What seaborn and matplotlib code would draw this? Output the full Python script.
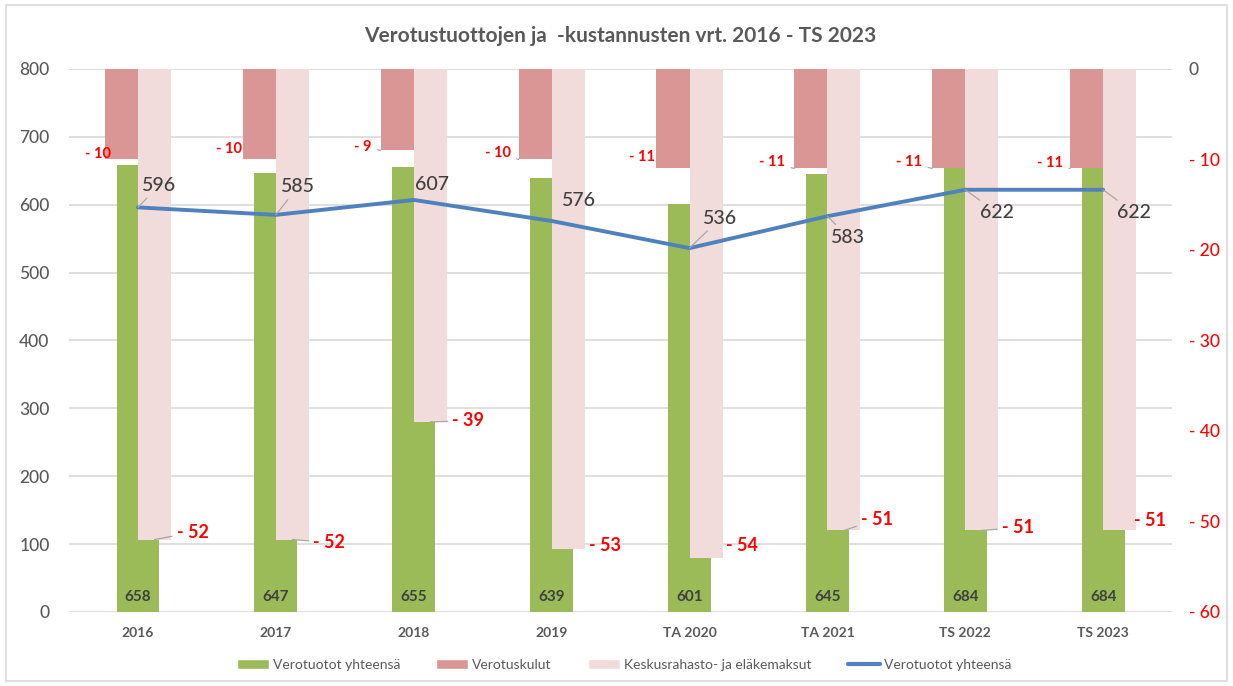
import numpy as np
import pandas as pd
import matplotlib.pyplot as plt
import seaborn as sns
from matplotlib.patches import Patch, Rectangle
from matplotlib.lines import Line2D

years = ["2016", "2017", "2018", "2019", "TA 2020", "TA 2021", "TS 2022", "TS 2023"]
tax_total = [658, 647, 655, 639, 601, 645, 684, 684]
collection_costs = [-10, -10, -9, -10, -11, -11, -11, -11]
pension_fees = [-52, -52, -39, -53, -54, -51, -51, -51]
net_revenue = [596, 585, 607, 576, 536, 583, 622, 622]

left_ticks = list(range(0, 801, 100))
right_ticks = list(range(-60, 1, 10))

TITLE = "Verotustuottojen ja  -kustannusten vrt. 2016 - TS 2023"
SERIES = ["Verotuotot yhteensä", "Verotuskulut", "Keskusrahasto- ja eläkemaksut", "Verotuotot yhteensä"]

GREEN = "#9BBB59"
RED = "#D99694"
PINK = "#F2DCDB"
BLUE = "#4F81BD"
TEXT = "#595959"
DARK = "#404040"
LABEL_RED = "#FF0000"
GRID = "#D9D9D9"
LEADER = "#A6A6A6"

# label offsets in pixels (dx, dy) and whether a leader line is drawn
line_offsets = [(21, 22, True), (22, 28, True), (18, 15, False), (27, 20, False),
                (31, 30, True), (21, -21, True), (32, -23, True), (31, -23, True)]
cost_offsets = [(-7, 5, False), (-14, 10, False), (-18, 3, True), (-21, 6, True),
                (-14, 11, False), (-22, 6, True), (-23, 6, True), (-20, 5, True)]
fee_offsets = [(38, 7, True), (37, -3, True), (38, 1, True), (37, 3, False),
               (36, 12, False), (33, 11, True), (36, 3, True), (30, 10, False)]


def neg_label(v):
    return "0" if v == 0 else f"- {abs(v)}"


sns.set_theme(style="white")
plt.rcParams["font.family"] = ["Lato", "DejaVu Sans"]

fig = plt.figure(figsize=(12.33, 6.86), dpi=100)
ax = fig.add_axes([0.056, 0.108, 0.8946, 0.7915])
ax2 = ax.twinx()
ax3 = ax.twinx()

# green bars (left scale)
sns.barplot(x=years, y=tax_total, color=GREEN, saturation=1, width=0.31,
            errorbar=None, linewidth=0, ax=ax)

# cost bars hanging from the top (right scale)
costs = pd.DataFrame({
    "vuosi": years * 2,
    "arvo": collection_costs + pension_fees,
    "sarja": [SERIES[1]] * len(years) + [SERIES[2]] * len(years),
})
sns.barplot(data=costs, x="vuosi", y="arvo", hue="sarja", palette=[RED, PINK],
            saturation=1, width=0.48, errorbar=None, legend=False, linewidth=0, ax=ax2)

# net revenue line (left scale, on top)
sns.lineplot(x=years, y=net_revenue, color=BLUE, linewidth=2.8, sort=False, ax=ax3)

ax.set_zorder(1)
ax2.set_zorder(2)
ax3.set_zorder(3)
ax2.patch.set_visible(False)
ax3.patch.set_visible(False)

for a in (ax, ax2, ax3):
    a.set_xlabel("")
    a.set_ylabel("")
    for s in a.spines.values():
        s.set_visible(False)

ax.set_ylim(0, 800)
ax3.set_ylim(0, 800)
ax2.set_ylim(-60, 0)
ax.set_xlim(-0.5, len(years) - 0.5)

ax.set_yticks(left_ticks)
ax.yaxis.grid(True, color=GRID, linewidth=1.2)
ax.set_axisbelow(True)
ax.tick_params(axis="y", length=0, pad=14, labelsize=12.5, labelcolor=TEXT)
ax.tick_params(axis="x", length=0, pad=11, labelsize=10, labelcolor=TEXT)
ax.set_xticks(range(len(years)), years)
for lbl in ax.get_xticklabels():
    lbl.set_fontweight("bold")
for lbl in ax.get_yticklabels():
    lbl.set_fontweight("medium")

ax2.set_yticks(right_ticks, [neg_label(t) for t in right_ticks])
ax2.tick_params(axis="y", length=0, pad=12, labelsize=12.5)
for t, lbl in zip(right_ticks, ax2.get_yticklabels()):
    lbl.set_color(TEXT if t == 0 else LABEL_RED)
    lbl.set_fontweight("medium")
ax3.set_yticks([])

# value labels
for i, v in enumerate(tax_total):
    ax.annotate(str(v), xy=(i, 0), xytext=(0, 15), textcoords="offset pixels",
                ha="center", va="center", fontsize=11, fontweight="bold", color=DARK)

for i, v in enumerate(net_revenue):
    dx, dy, lead = line_offsets[i]
    ax3.annotate(str(v), xy=(i, v), xytext=(dx, dy), textcoords="offset pixels",
                 ha="center", va="center", fontsize=14, fontweight="medium", color=DARK,
                 arrowprops=dict(arrowstyle="-", color=LEADER, lw=0.9,
                                 shrinkA=1, shrinkB=0) if lead else None)

for i, v in enumerate(collection_costs):
    dx, dy, lead = cost_offsets[i]
    ax2.annotate(neg_label(v), xy=(i - 0.24, v), xytext=(dx, dy), textcoords="offset pixels",
                 ha="center", va="center", fontsize=10.5, fontweight="bold", color=LABEL_RED,
                 arrowprops=dict(arrowstyle="-", color=LEADER, lw=0.9,
                                 shrinkA=2, shrinkB=0) if lead else None)

for i, v in enumerate(pension_fees):
    dx, dy, lead = fee_offsets[i]
    ax2.annotate(neg_label(v), xy=(i + 0.12, v), xytext=(dx, dy), textcoords="offset pixels",
                 ha="center", va="center", fontsize=13, fontweight="bold", color=LABEL_RED,
                 arrowprops=dict(arrowstyle="-", color=LEADER, lw=0.9,
                                 shrinkA=1, shrinkB=0) if lead else None)

fig.text(0.503, 0.948, TITLE, ha="center", va="center", fontsize=15,
         fontweight="bold", color=TEXT)

handles = [
    Patch(facecolor=GREEN),
    Patch(facecolor=RED),
    Patch(facecolor=PINK),
    Line2D([], [], color=BLUE, linewidth=3),
]
leg = fig.legend(handles, SERIES, loc="center", bbox_to_anchor=(0.506, 0.031), ncol=4,
                 frameon=False, fontsize=10, handlelength=2.3, handleheight=0.8,
                 handletextpad=0.3, columnspacing=2.6)
for txt in leg.get_texts():
    txt.set_color(TEXT)

fig.patches.append(Rectangle((0.005, 0.008), 0.99, 0.985, transform=fig.transFigure,
                             fill=False, edgecolor=GRID, linewidth=1.2))

fig.savefig("out.png", dpi=100, facecolor="white")
